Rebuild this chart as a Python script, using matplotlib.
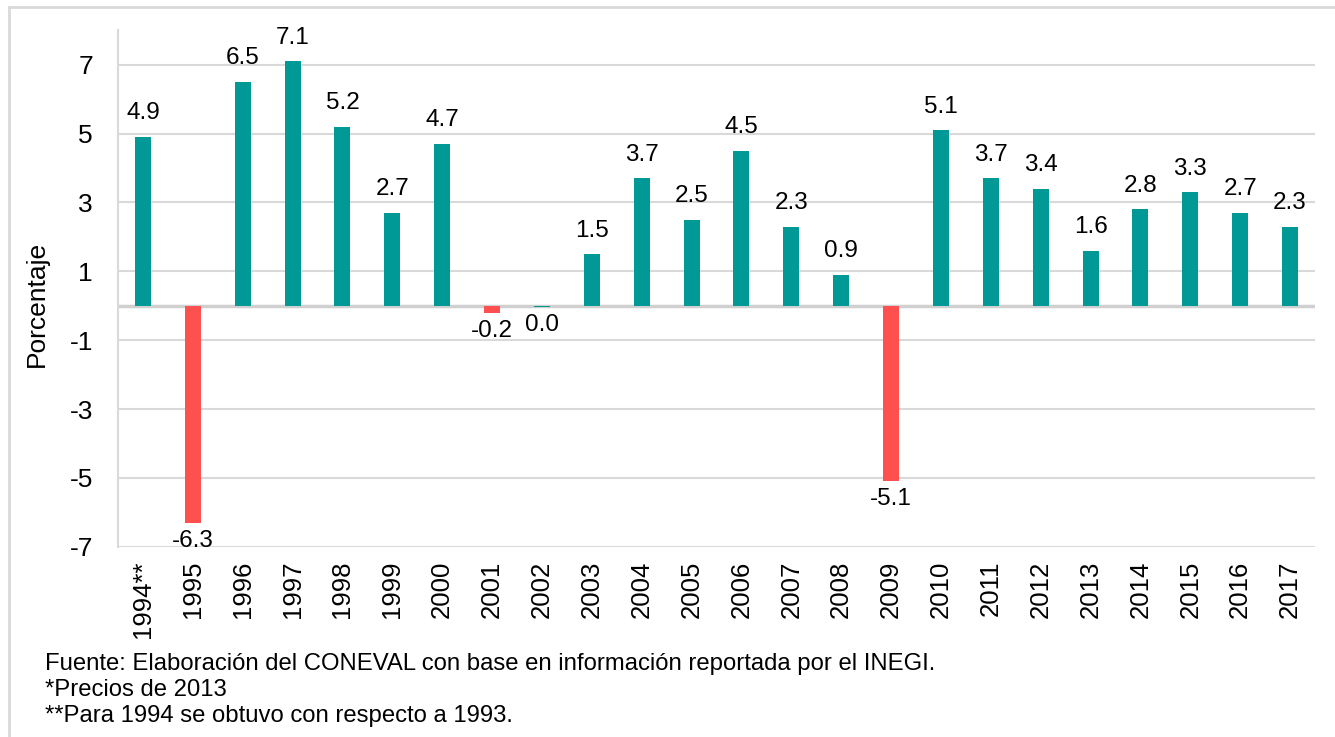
import matplotlib
matplotlib.use("Agg")
import matplotlib.pyplot as plt
from matplotlib.lines import Line2D

plt.rcParams['font.family'] = ['Liberation Sans', 'DejaVu Sans']

# datos
years = ['1994**', '1995', '1996', '1997', '1998', '1999', '2000', '2001', '2002',
         '2003', '2004', '2005', '2006', '2007', '2008', '2009', '2010', '2011',
         '2012', '2013', '2014', '2015', '2016', '2017']
growth = [4.9, -6.3, 6.5, 7.1, 5.2, 2.7, 4.7, -0.2, -0.04, 1.5, 3.7, 2.5, 4.5,
          2.3, 0.9, -5.1, 5.1, 3.7, 3.4, 1.6, 2.8, 3.3, 2.7, 2.3]
yticks = [-7, -5, -3, -1, 1, 3, 5, 7]
notes = ['Fuente: Elaboración del CONEVAL con base en información reportada por el INEGI.',
         '*Precios de 2013',
         '**Para 1994 se obtuvo con respecto a 1993.']

teal = '#009995'
red = '#FF5050'
grid_c = '#d9d9d9'

fig = plt.figure(figsize=(13.35, 7.37), dpi=100)
ax = fig.add_axes([0.0884, 0.258, 0.8966, 0.701])

x = list(range(len(years)))
colors = [red if v < -0.1 else teal for v in growth]
ax.bar(x, growth, width=0.32, color=colors, zorder=3)

for xi, v in zip(x, growth):
    txt = f'{v:.1f}'.replace('-0.0', '0.0')
    if v >= 0:
        ax.annotate(txt, (xi, v), xytext=(0, 9), textcoords='offset points',
                    ha='center', va='bottom', fontsize=17.5)
    else:
        ax.annotate(txt, (xi, v), xytext=(0, -5), textcoords='offset points',
                    ha='center', va='top', fontsize=17.5)

ax.set_xlim(-0.5, len(years) - 0.5)
ax.set_ylim(-7, 8)
ax.set_yticks(yticks)
ax.set_yticklabels([str(t) for t in yticks], fontsize=19)
ax.set_xticks(x)
ax.set_xticklabels(years, rotation=90, fontsize=18.5)
ax.tick_params(length=0)
ax.tick_params(axis='y', pad=18)
ax.tick_params(axis='x', pad=10)

for t in yticks:
    ax.axhline(t, color=grid_c, lw=1.5, zorder=1)
ax.axhline(0, color='#d0d0d0', lw=2.5, zorder=2)

for s in ['top', 'right', 'bottom']:
    ax.spines[s].set_visible(False)
ax.spines['left'].set_color(grid_c)
ax.spines['left'].set_linewidth(1.5)

ax.set_ylabel('Porcentaje', fontsize=19)
ax.yaxis.set_label_coords(-0.058, 0.47)

# marco exterior
fig.add_artist(Line2D([9 / 1335, 1], [1 - 7 / 737, 1 - 7 / 737], color=grid_c, lw=2))
fig.add_artist(Line2D([9 / 1335, 9 / 1335], [0, 1 - 7 / 737], color=grid_c, lw=2))

for i, n in enumerate(notes):
    fig.text(45 / 1335, 1 - (664 + 26 * i) / 737, n, fontsize=17.2, va='center', ha='left')

fig.savefig('out.png', dpi=100)
